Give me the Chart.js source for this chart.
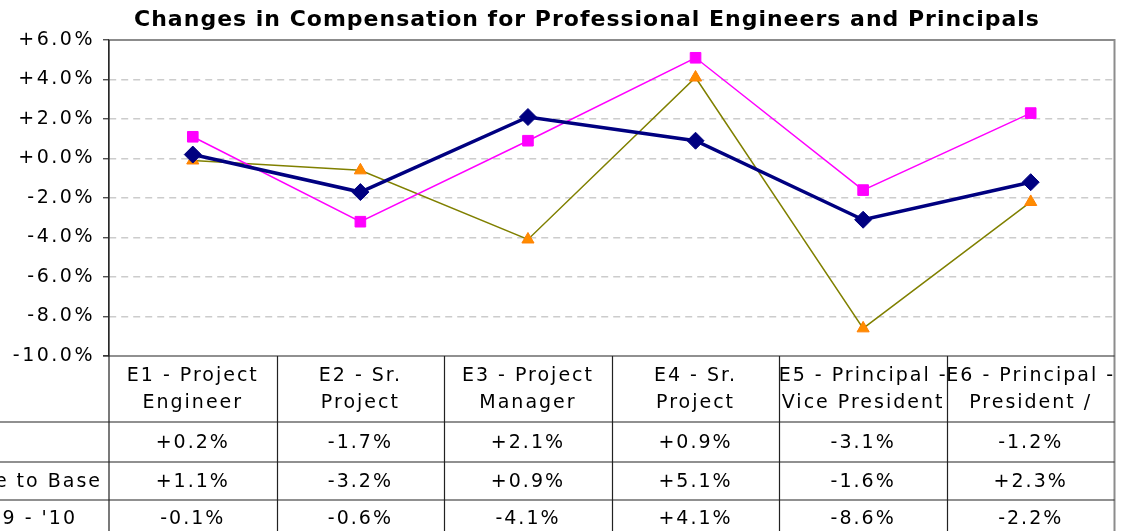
<!DOCTYPE html>
<html>
<head>
<meta charset="utf-8">
<script src="https://cdn.jsdelivr.net/npm/chart.js@4.4.0/dist/chart.umd.min.js"></script>
<style>
  html, body { margin: 0; padding: 0; background: #fff; overflow: hidden; }
</style>
</head>
<body>
<canvas id="chart" width="1124" height="531"></canvas>
<script>
// categories, each split into the two lines shown in the table header
const categories = [
  ['E1 - Project', 'Engineer'],
  ['E2 - Sr.', 'Project'],
  ['E3 - Project', 'Manager'],
  ['E4 - Sr.', 'Project'],
  ['E5 - Principal -', 'Vice President'],
  ['E6 - Principal -', 'President /']
];
const seriesNames = ['Total Change', "'10 - '11 Change to Base", "'09 - '10"];
const totalChange = [0.2, -1.7, 2.1, 0.9, -3.1, -1.2];
const baseChange  = [1.1, -3.2, 0.9, 5.1, -1.6, 2.3];
const priorChange = [-0.1, -0.6, -4.1, 4.1, -8.6, -2.2];
const yMin = -10, yMax = 6, yStep = 2;
const title = 'Changes in Compensation for Professional Engineers and Principals';

const FONT = '"DejaVu Sans", Verdana, sans-serif';

function pct(v) {
  return (v >= 0 ? '+' : '-') + Math.abs(v).toFixed(1) + '%';
}

// draws the title, frame and the data table under the plot
const tablePlugin = {
  id: 'dataTable',
  beforeDraw(chart) {
    chart.ctx.letterSpacing = '2.5px';
  },
  afterDraw(chart) {
    const { ctx, chartArea: a, scales: { x } } = chart;
    const H = chart.height;
    const half = (x.getPixelForValue(1) - x.getPixelForValue(0)) / 2;
    const rowTops = [a.bottom, a.bottom + 66, a.bottom + 106, a.bottom + 144, H + 6];
    const rowMid = r => (rowTops[r + 1] + rowTops[r + 2]) / 2 + 1;
    const rowData = [totalChange, baseChange, priorChange];
    const labelEnds = [-12, a.left - 7, a.left - 32];

    ctx.save();
    ctx.letterSpacing = '1px';
    ctx.fillStyle = '#000';
    ctx.font = 'bold 22px ' + FONT;
    ctx.textAlign = 'center';
    ctx.textBaseline = 'middle';
    ctx.fillText(title, 587, 20);

    // outer frame
    ctx.strokeStyle = '#8c8c8c';
    ctx.lineWidth = 2;
    ctx.beginPath();
    ctx.moveTo(a.left, a.top);
    ctx.lineTo(a.right, a.top);
    ctx.lineTo(a.right, H);
    ctx.stroke();

    // table lines
    ctx.strokeStyle = '#222';
    ctx.lineWidth = 1.2;
    ctx.beginPath();
    ctx.moveTo(a.left - 6, a.bottom);
    ctx.lineTo(a.right, a.bottom);
    for (let r = 1; r < 4; r++) {
      ctx.moveTo(0, rowTops[r]);
      ctx.lineTo(a.right, rowTops[r]);
    }
    ctx.moveTo(a.left, a.top);
    ctx.lineTo(a.left, H);
    for (let i = 1; i < categories.length; i++) {
      const bx = Math.round(x.getPixelForValue(i) - half) + 0.5;
      ctx.moveTo(bx, a.bottom);
      ctx.lineTo(bx, H);
    }
    ctx.stroke();

    ctx.letterSpacing = '2px';
    ctx.font = '19px ' + FONT;
    ctx.fillStyle = '#000';
    categories.forEach((lines, i) => {
      const cx = x.getPixelForValue(i);
      ctx.textAlign = 'center';
      ctx.fillText(lines[0], cx, rowTops[0] + 20);
      ctx.fillText(lines[1], cx, rowTops[0] + 47);
      rowData.forEach((vals, r) => {
        ctx.fillText(pct(vals[i]), cx, rowMid(r));
      });
    });
    ctx.textAlign = 'right';
    seriesNames.forEach((name, r) => {
      ctx.fillText(name, labelEnds[r], rowMid(r));
    });
    ctx.restore();
  }
};

new Chart(document.getElementById('chart'), {
  type: 'line',
  data: {
    labels: categories.map(c => c.join(' ')),
    datasets: [
      {
        label: seriesNames[0],
        data: totalChange,
        borderColor: '#000080',
        backgroundColor: '#000080',
        borderWidth: 3.5,
        pointStyle: 'rectRot',
        pointRadius: 8.5,
        pointBorderWidth: 1,
        order: 0
      },
      {
        label: seriesNames[1],
        data: baseChange,
        borderColor: '#ff00ff',
        backgroundColor: '#ff00ff',
        borderWidth: 1.5,
        pointStyle: 'rect',
        pointRadius: 7.5,
        pointBorderWidth: 1,
        order: 1
      },
      {
        label: seriesNames[2],
        data: priorChange,
        borderColor: '#808000',
        backgroundColor: '#ff8c00',
        pointBorderColor: '#ff7f00',
        borderWidth: 1.5,
        pointStyle: 'triangle',
        pointRadius: 7,
        pointBorderWidth: 1,
        order: 2
      }
    ]
  },
  options: {
    responsive: false,
    animation: false,
    layout: { padding: { top: 40, bottom: 175, right: 6, left: 0 } },
    plugins: {
      legend: { display: false },
      title: { display: false },
      tooltip: { enabled: false }
    },
    scales: {
      x: {
        type: 'category',
        display: false,
        offset: true
      },
      y: {
        min: yMin,
        max: yMax,
        ticks: {
          stepSize: yStep,
          color: '#000',
          font: { family: FONT, size: 19 },
          padding: 8,
          callback: v => pct(v)
        },
        grid: {
          color: c => (c.tick && (c.tick.value === yMin || c.tick.value === yMax)) ? 'rgba(0,0,0,0)' : '#cccccc',
          lineWidth: 1.5,
          tickLength: 6,
          tickColor: '#333',
          tickWidth: 1.2
        },
        border: { display: true, color: '#333', width: 1.2, dash: [7, 5] },
        afterFit: s => { s.width = 109; }
      }
    }
  },
  plugins: [tablePlugin]
});
</script>
</body>
</html>
